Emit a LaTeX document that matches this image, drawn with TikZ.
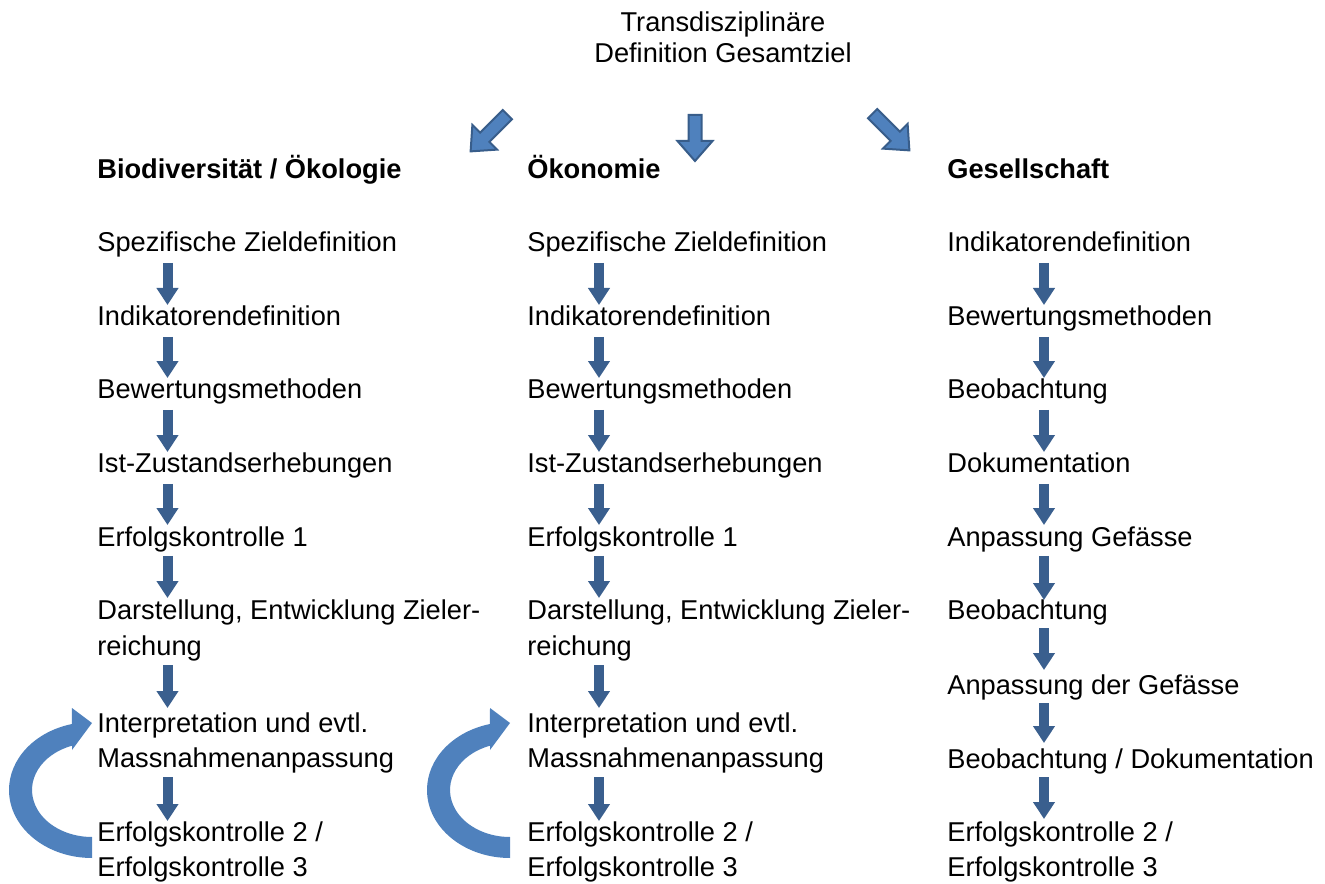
\documentclass[tikz,border=0pt]{standalone}
\usepackage{fontspec}
\setmainfont{Liberation Sans}
\usetikzlibrary{arrows.meta}
\definecolor{arrowdark}{HTML}{3A5F8E}
\definecolor{arrowfill}{HTML}{4F81BD}
\definecolor{arrowline}{HTML}{385D8A}

\begin{document}
\begin{tikzpicture}[x=0.02cm, y=0.02cm,
    txt/.style={anchor=base west, inner sep=0pt, font=\fontsize{15.5}{18}\selectfont},
    colhead/.style={txt, font=\fontsize{15.5}{18}\selectfont\bfseries},
    flow/.style={arrowdark, line width=0.2cm, -{Triangle[width=0.42cm, length=0.34cm]}},
    bigarrow/.style={fill=arrowfill, draw=arrowline, line width=0.04cm, line join=miter},
    cyclearrow/.style={fill=arrowfill}]
    \useasboundingbox (0,0) rectangle (1325,883);
    % title
    \node[txt, anchor=base] (t1) at (723,851) {Transdisziplinäre};
    \node[txt, anchor=base] (t2) at (723,820) {Definition Gesamtziel};
    % three block arrows below the title
    \foreach \cx/\cy/\ang/\len in {489/750/-135/52, 695/745/-90/46, 891/751/-45/52}
        \draw[bigarrow, shift={(\cx,\cy)}, rotate=\ang]
            (-\len/2,-6.5) -- (\len/2-20,-6.5) -- (\len/2-20,-17.5) -- (\len/2,0)
            -- (\len/2-20,17.5) -- (\len/2-20,6.5) -- (-\len/2,6.5) -- cycle;
    % column heads
    \node[colhead] (hBio) at (97,704) {Biodiversität / Ökologie};
    \node[colhead] (hOek) at (527,704) {Ökonomie};
    \node[colhead] (hGes) at (947,704) {Gesellschaft};
    % first two columns
    \foreach \col/\x in {b/97, o/527}
        \foreach \i/\y/\t in {1/631/Spezifische Zieldefinition, 2/557/Indikatorendefinition,
                3/484/Bewertungsmethoden, 4/410/Ist-Zustandserhebungen, 5/337/Erfolgskontrolle 1,
                6/264/{Darstellung, Entwicklung Zieler-}, 7/228/reichung,
                8/151/Interpretation und evtl., 9/116/Massnahmenanpassung,
                10/42/{Erfolgskontrolle 2 /}, 11/7/Erfolgskontrolle 3}
            \node[txt] (\col\i) at (\x,\y) {\t};
    \foreach \col/\dx in {b/70.5, o/72}
        \foreach \fr/\nx/\s/\e in {1/2/11/21, 2/3/11/21, 3/4/11/21, 4/5/11/21, 5/6/10/21, 7/8/10/24, 9/10/10/20}
            \draw[flow] ([shift={(\dx,-\s)}]\col\fr.base west) -- ([shift={(\dx,\e)}]\col\nx.base west);
    % third column
    \foreach \i/\y/\t in {1/631/Indikatorendefinition, 2/557/Bewertungsmethoden, 3/484/Beobachtung,
            4/410/Dokumentation, 5/337/Anpassung Gefässe, 6/264/Beobachtung,
            7/189/Anpassung der Gefässe, 8/115/{Beobachtung / Dokumentation},
            9/42/{Erfolgskontrolle 2 /}, 10/7/Erfolgskontrolle 3}
        \node[txt] (g\i) at (947,\y) {\t};
    \foreach \fr/\nx/\s/\e in {1/2/11/21, 2/3/11/21, 3/4/11/21, 4/5/11/21, 5/6/10/19, 6/7/9/24, 7/8/9/25, 8/9/9/22}
        \draw[flow] ([shift={(97,-\s)}]g\fr.base west) -- ([shift={(97,\e)}]g\nx.base west);
    % feedback loops
    \foreach \dx in {0,418}
        \fill[cyclearrow, shift={(\dx,0)}] (92,25)
            arc[start angle=270, end angle=104, x radius=83, y radius=68]
            -- (72,175) -- (92,160) -- (72,133) -- (72,137.3)
            arc[start angle=109.5, end angle=270, x radius=60, y radius=47] -- cycle;
\end{tikzpicture}
\end{document}
